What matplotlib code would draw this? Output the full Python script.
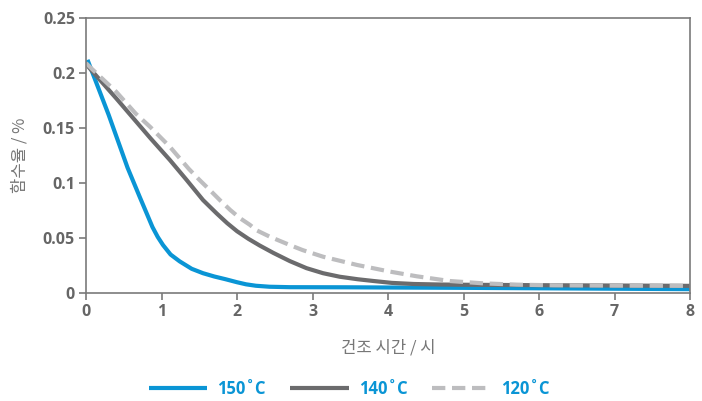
import matplotlib.pyplot as plt

# 데이터
t_150 = [0.02, 0.30, 0.55, 0.71, 0.80, 0.88, 0.95, 1.02, 1.12, 1.24, 1.40, 1.55, 1.70, 1.85,
         2.00, 2.12, 2.25, 2.43, 2.70, 3.44, 4.0, 5.0, 6.0, 7.0, 8.0]
w_150 = [0.212, 0.162, 0.114, 0.0876, 0.073, 0.060, 0.051, 0.0436, 0.035, 0.0288, 0.022, 0.018,
         0.015, 0.0125, 0.0098, 0.0079, 0.0066, 0.0057, 0.0053, 0.0052, 0.0050, 0.0047, 0.0043,
         0.0039, 0.0035]

t_140 = [0.0, 0.04, 0.40, 0.85, 1.11, 1.33, 1.55, 1.73, 1.87, 2.00, 2.15, 2.30, 2.48, 2.70,
         2.92, 3.14, 3.36, 3.60, 3.81, 4.05, 4.34, 4.70, 5.0, 6.0, 7.0, 8.0]
w_140 = [0.209, 0.205, 0.177, 0.141, 0.121, 0.103, 0.0845, 0.0724, 0.0635, 0.0562, 0.0493,
         0.0432, 0.0365, 0.029, 0.0226, 0.018, 0.0148, 0.0125, 0.0109, 0.0092, 0.0082, 0.0077,
         0.0075, 0.0071, 0.0068, 0.0065]

t_120 = [0.0, 0.09, 0.40, 0.66, 0.85, 1.11, 1.36, 1.50, 1.64, 1.78, 1.91, 2.04, 2.17, 2.26,
         2.44, 2.70, 2.87, 3.14, 3.59, 4.03, 4.38, 4.82, 5.26, 5.70, 6.20, 7.0, 8.0]
w_120 = [0.209, 0.203, 0.183, 0.163, 0.151, 0.133, 0.113, 0.103, 0.0936, 0.084, 0.0755, 0.068,
         0.062, 0.057, 0.051, 0.0436, 0.039, 0.033, 0.0255, 0.0194, 0.0152, 0.0109, 0.0088,
         0.0076, 0.0070, 0.0067, 0.0065]

series_labels = ['150˚C', '140˚C', '120˚C']
x_ticks = [0, 1, 2, 3, 4, 5, 6, 7, 8]
y_ticks = [0, 0.05, 0.1, 0.15, 0.2, 0.25]
y_labels = ['0', '0.05', '0.1', '0.15', '0.2', '0.25']

blue = '#0a95d5'
dark = '#6b6b6d'
light = '#bdbdbf'
axis_gray = '#7a7a7a'
kr = ['Noto Sans CJK KR', 'DejaVu Sans']
num = ['Open Sans', 'DejaVu Sans']

fig = plt.figure(figsize=(7.02, 4.01), dpi=100)
ax = fig.add_axes([0.1225, 0.2693, 0.8605, 0.6857])

ax.plot(t_150, w_150, color=blue, lw=3, label=series_labels[0],
        solid_capstyle='butt', solid_joinstyle='round')
ax.plot(t_140, w_140, color=dark, lw=3, label=series_labels[1],
        solid_capstyle='butt', solid_joinstyle='round')
ax.plot(t_120, w_120, color=light, lw=3, dashes=(3.2, 1.6), label=series_labels[2])

ax.set_xlim(0, 8)
ax.set_ylim(0, 0.25)
ax.set_xticks(x_ticks)
ax.set_yticks(y_ticks)
ax.set_yticklabels(y_labels)
for sp in ax.spines.values():
    sp.set_color(axis_gray)
    sp.set_linewidth(1.2)
ax.tick_params(colors=axis_gray, length=5, width=1.2, labelsize=11.5, pad=3)
for lab in ax.get_xticklabels() + ax.get_yticklabels():
    lab.set_family(num)
    lab.set_fontweight('bold')
    lab.set_color('#666666')

ax.set_xlabel('건조 시간 / 시', family=kr, fontsize=12, color='#777777', labelpad=14)
ax.set_ylabel('함수율 / %', family=kr, fontsize=12, color='#777777', labelpad=10)

leg = fig.legend(loc='center', bbox_to_anchor=(0.497, 0.03), ncol=3, frameon=False,
                 handlelength=3.5, handletextpad=0.6, columnspacing=1.5,
                 prop={'family': num, 'weight': 'bold', 'size': 12})
for txt in leg.get_texts():
    txt.set_color(blue)

fig.savefig('out.png', dpi=100)
